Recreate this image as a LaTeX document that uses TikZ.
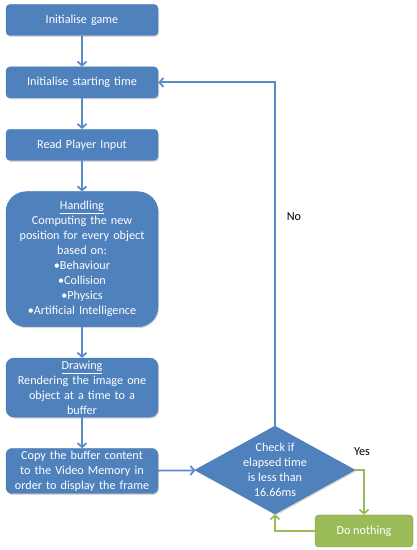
\documentclass[tikz,border=0pt]{standalone}
\usepackage{fontspec}
\setmainfont{Carlito}
\usetikzlibrary{shapes,arrows.meta,positioning,calc,shadows}
\definecolor{boxblue}{RGB}{79,129,189}
\definecolor{edgeblue}{RGB}{70,118,176}
\definecolor{lineblue}{RGB}{88,140,202}
\definecolor{boxgreen}{RGB}{155,187,89}
\definecolor{edgegreen}{RGB}{110,136,60}

\tikzset{
  stage/.style={draw=edgeblue, fill=boxblue, text=white, rounded corners=4pt,
    minimum width=152pt, text width=148pt, inner sep=2pt, align=center,
    font=\fontsize{12.2}{15}\selectfont,
    drop shadow={shadow xshift=1pt, shadow yshift=-1.5pt, opacity=0.3}},
  decision/.style={diamond, draw=edgeblue, fill=boxblue, minimum width=160pt,
    minimum height=88pt, inner sep=0pt,
    drop shadow={shadow xshift=1pt, shadow yshift=-1.5pt, opacity=0.3}},
  idle/.style={draw=edgegreen, fill=boxgreen, text=white, rounded corners=4pt,
    minimum width=98pt, minimum height=32pt, font=\fontsize{12.2}{15}\selectfont},
  flow/.style={draw=lineblue, line width=1.8pt, -{Straight Barb[length=4pt,width=9pt]}},
  greenflow/.style={draw=boxgreen, line width=1.8pt, -{Straight Barb[length=4pt,width=9pt]}},
  answer/.style={font=\fontsize{12.2}{14}\selectfont}
}

\begin{document}
\begin{tikzpicture}[x=1pt,y=1pt]
    \useasboundingbox (0,0) rectangle (417,550);

    \node[stage, minimum height=31pt] (game) at (82,530) {Initialise game};
    \node[stage, minimum height=31pt, below=31pt of game] (time) {Initialise starting time};
    \node[stage, minimum height=31pt, below=31pt of time] (read) {Read Player Input};
    \node[stage, minimum height=135pt, rounded corners=20pt, below=31pt of read] (handling)
        {\underline{Handling}\\Computing the new\\position for every object\\based on:\\%
         •Behaviour\\•Collision\\•Physics\\•Artificial Intelligence};
    \node[stage, minimum height=59pt, rounded corners=8pt, below=31pt of handling] (drawing)
        {\underline{Drawing}\\Rendering the image one\\object at a time to a\\buffer};
    \node[stage, minimum height=45pt, rounded corners=6pt, below=31pt of drawing] (copy)
        {Copy the buffer content\\to the Video Memory in\\order to display the frame};

    \node[decision] (check) at (275,80) {};
    \node[text=white, align=center, font=\fontsize{12.2}{15}\selectfont] (checktext) at (check)
        {Check if\\elapsed time\\is less than\\16.66ms};
    \node[idle] (nothing) at (364,19) {Do nothing};

    \node[answer] (no) at (294,333) {No};
    \node[answer] (yes) at (362,98) {Yes};

    \draw[flow] (game) -- (time);
    \draw[flow] (time) -- (read);
    \draw[flow] (read) -- (handling);
    \draw[flow] (handling) -- (drawing);
    \draw[flow] (drawing) -- (copy);
    \draw[flow] (copy) -- (check);
    \draw[flow] (check.north) |- (time.east);
    \draw[greenflow] (check.east) -| (nothing.north);
    \draw[greenflow] (nothing.west) -| (check.south);
\end{tikzpicture}
\end{document}
